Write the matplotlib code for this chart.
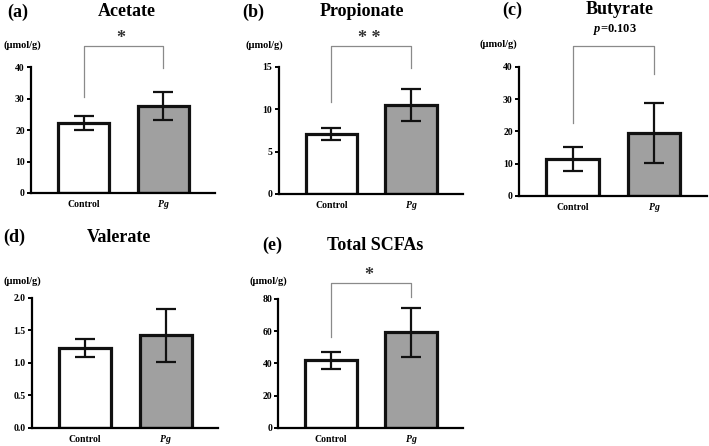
import matplotlib
matplotlib.use("Agg")
import matplotlib.pyplot as plt

plt.rcParams['font.family'] = ['Liberation Serif', 'DejaVu Serif']
plt.rcParams['font.weight'] = 'bold'
plt.rcParams['mathtext.fontset'] = 'custom'
plt.rcParams['mathtext.it'] = 'Liberation Serif:italic:bold'
plt.rcParams['mathtext.rm'] = 'Liberation Serif:bold'

groups = ["Control", "Pg"]
titles = ["Acetate", "Propionate", "Butyrate", "Valerate", "Total SCFAs"]
letters = ["(a)", "(b)", "(c)", "(d)", "(e)"]
means = [[22.2, 27.6], [7.05, 10.5], [11.4, 19.6], [1.23, 1.42], [41.9, 59.2]]
sds = [[2.1, 4.5], [0.7, 1.9], [3.7, 9.3], [0.135, 0.41], [5.2, 15.5]]
ymax = [40, 15, 40, 2.0, 80]
ysteps = [10, 5, 10, 0.5, 20]
sig_text = ["*", "* *", "$\\mathit{p}$=0.103", None, "*"]
# bracket: (top, left leg end, right leg end, text y)
brackets = [(46.6, 30.6, 39.8, 49.0), (17.5, 10.9, 14.9, 18.4),
            (46.5, 22.6, 37.8, 51.5), None, (90.1, 56.6, 81.0, 94.5)]

W, H = 709, 446
fig = plt.figure(figsize=(W / 100, H / 100), dpi=100)

# axes boxes in pixels: (left, right, top, bottom)
boxes = [(31, 215, 67, 193), (278.7, 463, 67, 194), (519, 707, 67, 196),
         (31.7, 218, 297.7, 427.7), (278.3, 463, 299, 427.7)]
title_pos = [(127, 12), (361.7, 12), (620, 10), (119, 237), (375, 245)]
letter_pos = [(7, 12), (242, 12), (502, 10), (3, 237), (262, 245)]
unit_pos = [(3, 45), (245, 45), (480, 44), (3, 281), (249, 281)]

for i in range(5):
    l, r, t, b = boxes[i]
    ax = fig.add_axes([l / W, 1 - b / H, (r - l) / W, (b - t) / H])
    x = [0, 1]
    ax.bar(x, means[i], width=0.645, color=["white", "#a0a0a0"],
           edgecolor="#111111", linewidth=2.3, zorder=2)
    ax.errorbar(x, means[i], yerr=sds[i], fmt="none", ecolor="#111111",
                elinewidth=1.6, capsize=7, capthick=1.6, zorder=3)
    ax.set_xlim(-0.66, 1.65)
    ax.set_ylim(0, ymax[i])
    n = int(round(ymax[i] / ysteps[i]))
    ticks = [k * ysteps[i] for k in range(n + 1)]
    ax.set_yticks(ticks)
    if ysteps[i] < 1:
        ax.set_yticklabels([f"{v:.1f}" for v in ticks])
    else:
        ax.set_yticklabels([f"{int(v)}" for v in ticks])
    ax.set_xticks(x)
    ax.set_xticklabels(groups)
    ax.get_xticklabels()[1].set_style("italic")
    for lab in ax.get_xticklabels() + ax.get_yticklabels():
        lab.set_fontweight("bold")
    ax.tick_params(axis="x", length=0, labelsize=7, pad=5)
    ax.tick_params(axis="y", length=3, width=1.4, labelsize=7, pad=1.5,
                   direction="out")
    for s in ["top", "right"]:
        ax.spines[s].set_visible(False)
    ax.spines["left"].set_linewidth(1.6)
    ax.spines["bottom"].set_linewidth(1.6)
    ax.patch.set_alpha(0)

    if brackets[i] is not None:
        top, ll, rl, ty = brackets[i]
        ax.plot([0, 0, 1, 1], [ll, top, top, rl], color="#8a8a8a",
                linewidth=0.9, clip_on=False, zorder=1)
        xt = 0.52 if i == 2 else 0.47
        ax.text(xt, ty, sig_text[i], ha="center", va="center",
                fontsize=9 if i == 2 else 13,
                color="black" if i == 2 else "#333333",
                fontweight="bold")

    tx, ty = title_pos[i]
    fig.text(tx / W, 1 - ty / H, titles[i], ha="center", va="center",
             fontsize=13, fontweight="bold")
    lx, ly = letter_pos[i]
    fig.text(lx / W, 1 - ly / H, letters[i], ha="left", va="center",
             fontsize=13, fontweight="bold")
    ux, uy = unit_pos[i]
    fig.text(ux / W, 1 - uy / H, "(µmol/g)", ha="left", va="center",
             fontsize=7.5, fontweight="bold")

fig.savefig("out.png", dpi=100)
